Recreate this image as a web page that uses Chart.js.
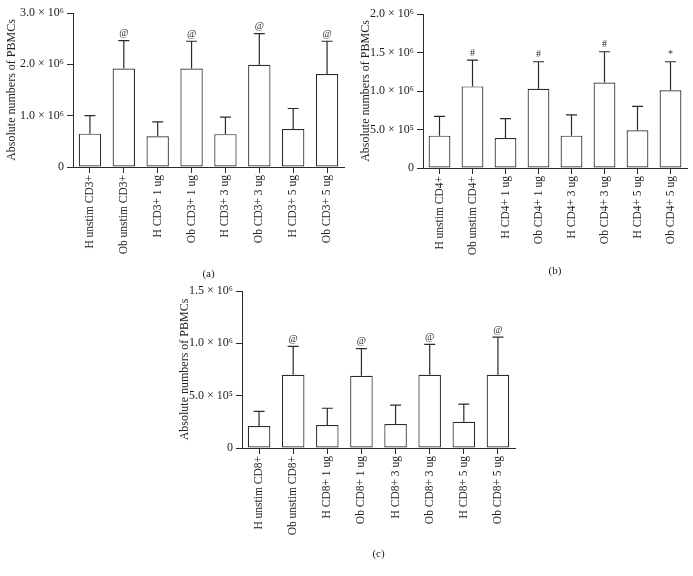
<!DOCTYPE html>
<html>
<head>
<meta charset="utf-8">
<script src="https://cdn.jsdelivr.net/npm/chart.js@4.4.0/dist/chart.umd.min.js"></script>
<style>
  body { margin: 0; background: #fff; width: 693px; height: 576px; position: relative; overflow: hidden; }
  canvas { position: absolute; }
</style>
</head>
<body>
<canvas id="chartA" width="350" height="290" style="left:0;top:0"></canvas>
<canvas id="chartB" width="340" height="287" style="left:353px;top:0"></canvas>
<canvas id="chartC" width="350" height="290" style="left:170px;top:280px"></canvas>
<script>
/* --- data (absolute numbers of PBMCs) --- */
var labelsA = ['H unstim CD3+', 'Ob unstim CD3+', 'H CD3+ 1 ug', 'Ob CD3+ 1 ug', 'H CD3+ 3 ug', 'Ob CD3+ 3 ug', 'H CD3+ 5 ug', 'Ob CD3+ 5 ug'];
var meanA   = [0.65e6, 1.92e6, 0.60e6, 1.92e6, 0.64e6, 1.99e6, 0.74e6, 1.81e6];
var sdA     = [0.35e6, 0.54e6, 0.28e6, 0.53e6, 0.33e6, 0.61e6, 0.40e6, 0.64e6];
var marksA  = ['', '@', '', '@', '', '@', '', '@'];
var yTicksA = ['0', '1.0 × 10⁶', '2.0 × 10⁶', '3.0 × 10⁶'];

var labelsB = ['H unstim CD4+', 'Ob unstim CD4+', 'H CD4+ 1 ug', 'Ob CD4+ 1 ug', 'H CD4+ 3 ug', 'Ob CD4+ 3 ug', 'H CD4+ 5 ug', 'Ob CD4+ 5 ug'];
var meanB   = [0.42e6, 1.06e6, 0.39e6, 1.03e6, 0.42e6, 1.11e6, 0.49e6, 1.01e6];
var sdB     = [0.25e6, 0.34e6, 0.25e6, 0.35e6, 0.27e6, 0.40e6, 0.31e6, 0.37e6];
var marksB  = ['', '#', '', '#', '', '#', '', '*'];
var yTicksB = ['0', '5.0 × 10⁵', '1.0 × 10⁶', '1.5 × 10⁶', '2.0 × 10⁶'];

var labelsC = ['H unstim CD8+', 'Ob unstim CD8+', 'H CD8+ 1 ug', 'Ob CD8+ 1 ug', 'H CD8+ 3 ug', 'Ob CD8+ 3 ug', 'H CD8+ 5 ug', 'Ob CD8+ 5 ug'];
var meanC   = [0.21e6, 0.70e6, 0.22e6, 0.69e6, 0.23e6, 0.70e6, 0.25e6, 0.70e6];
var sdC     = [0.14e6, 0.27e6, 0.16e6, 0.26e6, 0.18e6, 0.29e6, 0.17e6, 0.36e6];
var marksC  = ['', '@', '', '@', '', '@', '', '@'];
var yTicksC = ['0', '5.0 × 10⁵', '1.0 × 10⁶', '1.5 × 10⁶'];

var SERIF = '"Liberation Serif", "DejaVu Serif", serif';
var INK = '#2a2a2a';

/* upward-only error bars plus significance marks */
var errorBars = {
    id: 'errorBars',
    afterDatasetsDraw: function (chart) {
        var ctx = chart.ctx;
        var ds = chart.data.datasets[0];
        var meta = chart.getDatasetMeta(0);
        var y = chart.scales.y;
        ctx.save();
        ctx.strokeStyle = INK;
        ctx.lineWidth = 1.2;
        ctx.fillStyle = INK;
        ctx.font = '10px ' + SERIF;
        ctx.textAlign = 'center';
        ctx.textBaseline = 'bottom';
        meta.data.forEach(function (bar, i) {
            var top = y.getPixelForValue(ds.data[i] + ds.sd[i]);
            ctx.beginPath();
            ctx.moveTo(bar.x, bar.y);
            ctx.lineTo(bar.x, top);
            ctx.moveTo(bar.x - 5.5, top);
            ctx.lineTo(bar.x + 5.5, top);
            ctx.stroke();
            if (ds.marks[i]) ctx.fillText(ds.marks[i], bar.x, top - 2);
        });
        ctx.restore();
    }
};

function buildPanel(id, p) {
    new Chart(document.getElementById(id), {
        type: 'bar',
        data: {
            labels: p.labels,
            datasets: [{
                data: p.means,
                sd: p.sd,
                marks: p.marks,
                backgroundColor: '#ffffff',
                borderColor: INK,
                borderWidth: 1.2,
                borderSkipped: false,
                barPercentage: 0.66,
                categoryPercentage: 1
            }]
        },
        options: {
            responsive: false,
            animation: false,
            layout: { padding: { top: p.padTop, right: p.padRight, left: 0, bottom: 0 } },
            plugins: { legend: { display: false }, tooltip: { enabled: false } },
            scales: {
                x: {
                    grid: { display: true, drawOnChartArea: false, offset: false, tickLength: 6, color: INK },
                    border: { color: INK, width: 1 },
                    ticks: { minRotation: 90, maxRotation: 90, autoSkip: false, padding: 2, color: '#222',
                             font: { family: SERIF, size: 11.5 } },
                    title: { display: true, text: p.caption, color: '#222', font: { family: SERIF, size: 11 },
                             padding: { top: 0, bottom: 9 } },
                    afterFit: function (s) { s.height = p.xHeight; }
                },
                y: {
                    min: 0,
                    max: p.max,
                    grid: { display: true, drawOnChartArea: false, tickLength: 6, color: INK },
                    border: { color: INK, width: 1 },
                    ticks: { stepSize: p.step, padding: 3, color: '#222', font: { family: SERIF, size: 12 },
                             callback: function (v, i) { return p.yTicks[i]; } },
                    title: { display: true, text: 'Absolute numbers of PBMCs', color: '#222',
                             font: { family: SERIF, size: 12 }, padding: { top: p.titleOff, bottom: 0 } },
                    afterFit: function (s) { s.width = p.yWidth; }
                }
            }
        },
        plugins: [errorBars]
    });
}

buildPanel('chartA', { labels: labelsA, means: meanA, sd: sdA, marks: marksA, yTicks: yTicksA,
    max: 3e6, step: 1e6, caption: '(a)', padTop: 13, padRight: 6, xHeight: 123, yWidth: 73, titleOff: 5 });
buildPanel('chartB', { labels: labelsB, means: meanB, sd: sdB, marks: marksB, yTicks: yTicksB,
    max: 2e6, step: 5e5, caption: '(b)', padTop: 14, padRight: 6, xHeight: 119, yWidth: 70, titleOff: 6 });
buildPanel('chartC', { labels: labelsC, means: meanC, sd: sdC, marks: marksC, yTicks: yTicksC,
    max: 1.5e6, step: 5e5, caption: '(c)', padTop: 11, padRight: 5, xHeight: 122, yWidth: 72, titleOff: 8 });
</script>
</body>
</html>
